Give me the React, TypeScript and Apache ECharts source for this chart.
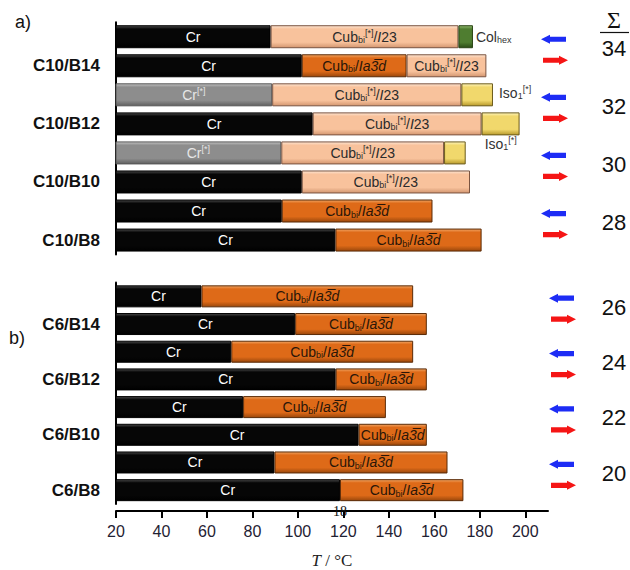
import React, { useEffect, useRef } from "react";
import * as echarts from "echarts";

// ---------- data ----------
const topCategories = ["C10/B14 cooling", "C10/B14", "C10/B12 cooling", "C10/B12", "C10/B10 cooling", "C10/B10", "C10/B8 cooling", "C10/B8"];
const topPhase1 = ["Cr", "Cr", "Cr*", "Cr", "Cr*", "Cr", "Cr", "Cr"];
const topT1 = [88, 101.7, 88.7, 106.5, 92.7, 101.7, 92.9, 116.5];
const topPhase2 = ["CubI23", "CubIa3d", "CubI23", "CubI23", "CubI23", "CubI23", "CubIa3d", "CubIa3d"];
const topT2 = [170.6, 147.8, 171.9, 180.8, 164.3, 175.7, 159.2, 180.8];
const topPhase3 = ["Colhex", "CubI23", "Iso1", "Iso1n", "Iso1b", null, null, null];
const topT3 = [177, 182.9, 185.8, 197.5, 173.8, null, null, null];

const botCategories = ["C6/B14 cooling", "C6/B14", "C6/B12 cooling", "C6/B12", "C6/B10 cooling", "C6/B10", "C6/B8 cooling", "C6/B8"];
const botPhase1 = ["Cr", "Cr", "Cr", "Cr", "Cr", "Cr", "Cr", "Cr"];
const botT1 = [57.6, 98.8, 70.7, 116.6, 75.9, 126.7, 89.7, 118.5];
const botPhase2 = ["CubIa3d", "CubIa3d", "CubIa3d", "CubIa3d", "CubIa3d", "CubIa3d", "CubIa3d", "CubIa3d"];
const botT2 = [150.7, 156.7, 150.7, 156.7, 138.7, 156.7, 165.8, 172.8];

const topSums = [34, 32, 30, 28];
const botSums = [26, 24, 22, 20];
const xTicks = [20, 40, 60, 80, 100, 120, 140, 160, 180, 200];

// ---------- styles ----------
function bevel(light: string, base: string, dark: string) {
  return new echarts.graphic.LinearGradient(0, 0, 0, 1, [
    { offset: 0, color: light },
    { offset: 0.15, color: base },
    { offset: 0.75, color: base },
    { offset: 1, color: dark },
  ]);
}

const isoFill = ["#fff6c0", "#f1d86c", "#b89a2c"];
const phaseDefs: Record<string, any> = {
  Cr: { fill: ["#4a4a4a", "#060606", "#000000"], border: "#000", text: "{n|Cr}", color: "#ffffff", pos: "inside" },
  "Cr*": { fill: ["#c4c4c4", "#8d8d8d", "#606060"], border: "#555", text: "{n|Cr}{sup|[*]}", color: "#e6e6e6", pos: "inside" },
  CubI23: { fill: ["#fde6d4", "#f8c29c", "#d39670"], border: "#7a5440", text: "{n|Cub}{sub|bi}{sup|[*]}{n|/}{i|I}{n|23}", color: "#2b2b2b", pos: "inside" },
  CubIa3d: { fill: ["#f2a766", "#de6a18", "#9a470b"], border: "#5a2a06", text: "{n|Cub}{sub|bi}{n|/}{i|Ia3\u0305d}", color: "#2a1608", pos: "inside" },
  Colhex: { fill: ["#93bd72", "#4f7d30", "#2b4c16"], border: "#2a4314", text: "{n|Col}{sub|hex}", color: "#333333", pos: "right", offset: [0, 0] },
  Iso1: { fill: isoFill, border: "#6b5a1a", text: "{n|Iso}{sub|1}{sup|[*]}", color: "#333333", pos: "right", offset: [3, -2] },
  Iso1n: { fill: isoFill, border: "#6b5a1a", text: "", color: "#333333", pos: "right", noLabel: true },
  Iso1b: { fill: isoFill, border: "#6b5a1a", text: "{n|Iso}{sub|1}{sup|[*]}", color: "#333333", pos: "right", offset: [16, -9] },
};

const rich = {
  n: { fontSize: 14, lineHeight: 16, fontFamily: "Liberation Sans, Arial, sans-serif" },
  i: { fontSize: 14, lineHeight: 16, fontStyle: "italic", fontFamily: "Liberation Sans, DejaVu Sans, sans-serif" },
  sub: { fontSize: 9, lineHeight: 10, verticalAlign: "bottom", fontFamily: "Liberation Sans, Arial, sans-serif" },
  sup: { fontSize: 9, lineHeight: 10, verticalAlign: "top", fontFamily: "Liberation Sans, Arial, sans-serif" },
};

function item(phase: string | null, len: number | null) {
  if (!phase || len == null) return { value: null };
  const d = phaseDefs[phase];
  return {
    value: len,
    itemStyle: { color: bevel(d.fill[0], d.fill[1], d.fill[2]), borderColor: d.border, borderWidth: 1 },
    label: {
      show: !d.noLabel,
      position: d.pos,
      offset: d.offset || [0, 0],
      distance: 3,
      formatter: d.text,
      color: d.color,
      rich,
    },
  };
}

const seg = (a: (number | null)[], b: (number | null)[]) =>
  a.map((v, i) => (v == null || b[i] == null ? null : Math.round(((v as number) - (b[i] as number)) * 10) / 10));

const topLen2 = seg(topT2, topT1);
const topLen3 = seg(topT3, topT2);
const botLen2 = seg(botT2, botT1);

const hideCooling = (v: string) => (v.endsWith("cooling") ? "" : v);

export default function App() {
  const ref = useRef<HTMLDivElement>(null);
  useEffect(() => {
    if (!ref.current) return;
    const chart = echarts.init(ref.current, null, { renderer: "svg" });
    const catAxisCommon = {
      type: "category",
      inverse: true,
      axisLine: { show: true, lineStyle: { color: "#000", width: 2 } },
      axisTick: { show: false },
      axisLabel: {
        formatter: hideCooling,
        fontSize: 17,
        fontWeight: "bold",
        color: "#111",
        fontFamily: "Liberation Sans, Arial, sans-serif",
        margin: 16,
      },
    };
    const option: any = {
      animation: false,
      backgroundColor: "#ffffff",
      grid: [
        { left: 116, top: 22.2, width: 432, height: 232.4 },
        { left: 116, top: 282.5, width: 432, height: 226.6 },
      ],
      xAxis: [
        { type: "value", gridIndex: 0, min: 20, max: 210, interval: 20, show: false, splitLine: { show: false } },
        {
          type: "value",
          gridIndex: 1,
          min: 20,
          max: 210,
          interval: 20,
          offset: 7,
          splitLine: { show: false },
          axisLine: { show: true, lineStyle: { color: "#000", width: 2 } },
          axisTick: { show: true, length: 7, lineStyle: { color: "#000", width: 2 }, customValues: xTicks },
          axisLabel: {
            customValues: xTicks,
            fontSize: 16,
            color: "#1f2233",
            margin: 12,
            fontFamily: "Liberation Sans, Arial, sans-serif",
          },
          name: "{it|T} / °C",
          nameLocation: "middle",
          nameGap: 41,
          nameTextStyle: {
            fontSize: 17,
            color: "#222",
            fontFamily: "Liberation Serif, Times New Roman, serif",
            rich: {
              it: { fontSize: 17, fontStyle: "italic", fontFamily: "Liberation Serif, Times New Roman, serif", color: "#222" },
            },
          },
        },
      ],
      yAxis: [
        { ...catAxisCommon, gridIndex: 0, data: topCategories },
        { ...catAxisCommon, gridIndex: 1, data: botCategories },
      ],
      series: [
        { type: "bar", xAxisIndex: 0, yAxisIndex: 0, stack: "top", barWidth: 23, data: topT1.map((v, i) => item(topPhase1[i], v)) },
        { type: "bar", xAxisIndex: 0, yAxisIndex: 0, stack: "top", barWidth: 23, data: topLen2.map((v, i) => item(topPhase2[i], v)) },
        { type: "bar", xAxisIndex: 0, yAxisIndex: 0, stack: "top", barWidth: 23, data: topLen3.map((v, i) => item(topPhase3[i], v)) },
        { type: "bar", xAxisIndex: 1, yAxisIndex: 1, stack: "bot", barWidth: 22, data: botT1.map((v, i) => item(botPhase1[i], v)) },
        { type: "bar", xAxisIndex: 1, yAxisIndex: 1, stack: "bot", barWidth: 22, data: botLen2.map((v, i) => item(botPhase2[i], v)) },
      ],
    };
    chart.setOption(option);

    // annotations positioned from the category axes
    const graphics: any[] = [];
    const arrow = (x: number, y: number, dir: number, color: string) => {
      const L = 25, H = 9, hh = 4.5, sh = 2.6;
      const p = (dx: number, dy: number) => [dir < 0 ? x + dx : x + L - dx, y + dy];
      graphics.push({
        type: "polygon",
        shape: { points: [p(0, 0), p(H, -hh), p(H, -sh), p(L, -sh), p(L, sh), p(H, sh), p(H, hh)] },
        style: { fill: color },
      });
    };
    const addPairs = (axisIndex: number, cats: string[], sums: number[], ax: number) => {
      sums.forEach((s, k) => {
        const y1 = chart.convertToPixel({ yAxisIndex: axisIndex }, cats[2 * k]) as number;
        const y2 = chart.convertToPixel({ yAxisIndex: axisIndex }, cats[2 * k + 1]) as number;
        const mid = (y1 + y2) / 2;
        arrow(ax, mid - 12, -1, "#1d2cf5");
        arrow(ax + 2, mid + 9, 1, "#f51515");
        graphics.push({
          type: "text",
          x: 614,
          y: mid - 3,
          style: { text: String(s), fontSize: 22, fill: "#111", align: "center", verticalAlign: "middle", fontFamily: "Liberation Sans, Arial, sans-serif" },
        });
      });
    };
    addPairs(0, topCategories, topSums, 541);
    addPairs(1, botCategories, botSums, 549);
    graphics.push(
      { type: "text", x: 614, y: 20, style: { text: "Σ", fontSize: 24, fill: "#111", align: "center", verticalAlign: "middle", fontFamily: "Liberation Serif, Times New Roman, serif" } },
      { type: "line", shape: { x1: 600, y1: 32.5, x2: 629, y2: 32.5 }, style: { stroke: "#111", lineWidth: 1.2 } },
      { type: "text", x: 15, y: 22, style: { text: "a)", fontSize: 18, fill: "#111", verticalAlign: "middle", fontFamily: "Liberation Sans, Arial, sans-serif" } },
      { type: "text", x: 9, y: 338, style: { text: "b)", fontSize: 18, fill: "#111", verticalAlign: "middle", fontFamily: "Liberation Sans, Arial, sans-serif" } },
      { type: "text", x: 340, y: 511, z: 100, style: { text: "18", fontSize: 14, fill: "#111", align: "center", verticalAlign: "middle", fontFamily: "Liberation Serif, Times New Roman, serif" } }
    );
    chart.setOption({ graphic: graphics });
    return () => chart.dispose();
  }, []);
  return <div ref={ref} style={{ position: "fixed", left: 0, top: 0, width: 630, height: 570 }} />;
}
